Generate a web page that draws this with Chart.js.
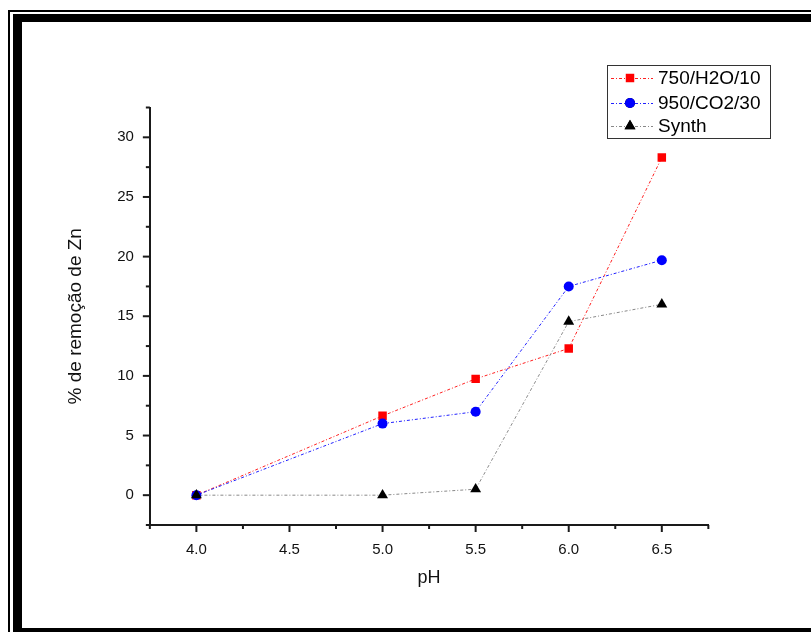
<!DOCTYPE html>
<html>
<head>
<meta charset="utf-8">
<script src="https://cdn.jsdelivr.net/npm/chart.js@4.4.1/dist/chart.umd.min.js"></script>
<style>
  html, body { margin: 0; padding: 0; background: #fff; }
  #c { display: block; }
</style>
</head>
<body>
<canvas id="c" width="811" height="632"></canvas>
<script>
// ---- data ----
const phValues = [4.0, 5.0, 5.5, 6.0, 6.5];
const seriesNames = ['750/H2O/10', '950/CO2/30', 'Synth'];
const red750 = [0, 6.65, 9.75, 12.3, 28.3];
const blue950 = [0, 6.0, 7.0, 17.5, 19.7];
const synth = [0, 0, 0.5, 14.55, 16.0];
const xTitle = 'pH';
const yTitle = '% de remoção de Zn';

const FONT = '"Liberation Sans", Arial, sans-serif';
const toPts = (ys) => ys.map((y, i) => ({ x: phValues[i], y }));
const DASH = [3, 2, 1, 2];

const frame = {
  id: 'frame',
  afterDraw(chart) {
    const ctx = chart.ctx;
    ctx.save();
    ctx.fillStyle = '#000';
    ctx.fillRect(8, 10, 2, 622);
    ctx.fillRect(8, 10, 803, 2);
    ctx.fillRect(13, 14, 9, 618);
    ctx.fillRect(13, 14, 798, 8);
    ctx.fillRect(13, 628, 798, 4);
    ctx.restore();
  }
};

const tickMarks = {
  id: 'tickMarks',
  afterDraw(chart) {
    const ctx = chart.ctx;
    const xs = chart.scales.x, ys = chart.scales.y;
    ctx.save();
    ctx.strokeStyle = '#1a1a1a';
    ctx.lineWidth = 2;
    ys.ticks.forEach(t => {
      const p = ys.getPixelForValue(t.value);
      const len = t.label !== '' ? 7 : 4;
      ctx.beginPath();
      ctx.moveTo(ys.right - len, p);
      ctx.lineTo(ys.right, p);
      ctx.stroke();
    });
    xs.ticks.forEach(t => {
      const p = xs.getPixelForValue(t.value);
      const len = t.label !== '' ? 7 : 4;
      ctx.beginPath();
      ctx.moveTo(p, xs.top);
      ctx.lineTo(p, xs.top + len);
      ctx.stroke();
    });
    ctx.restore();
  }
};

const legendBox = {
  id: 'legendBox',
  afterDraw(chart) {
    const ctx = chart.ctx;
    const bx = 607.5, by = 65.5, bw = 163, bh = 73;
    ctx.save();
    ctx.fillStyle = '#fff';
    ctx.fillRect(bx, by, bw, bh);
    ctx.strokeStyle = '#333';
    ctx.lineWidth = 1;
    ctx.strokeRect(bx, by, bw, bh);
    const rows = [78, 103, 126];
    chart.data.datasets.forEach((ds, i) => {
      const y = rows[i];
      ctx.save();
      ctx.strokeStyle = ds.borderColor;
      ctx.lineWidth = 1;
      ctx.setLineDash(DASH);
      ctx.beginPath();
      ctx.moveTo(611, y + 0.5);
      ctx.lineTo(653, y + 0.5);
      ctx.stroke();
      ctx.restore();
      Chart.helpers.drawPoint(ctx, {
        pointStyle: ds.pointStyle,
        radius: ds.pointRadius,
        borderWidth: 0,
        rotation: 0
      }, 630, y);
      ctx.fillStyle = ds.pointBackgroundColor;
      ctx.fill();
      ctx.fillStyle = '#000';
      ctx.font = '19px ' + FONT;
      ctx.textBaseline = 'middle';
      ctx.textAlign = 'left';
      ctx.fillText(ds.label, 658, y + 1);
    });
    ctx.restore();
  }
};

new Chart(document.getElementById('c'), {
  type: 'line',
  data: {
    datasets: [
      {
        label: seriesNames[0], data: toPts(red750),
        borderColor: '#ff2020', borderWidth: 1, borderDash: DASH,
        pointStyle: 'rect', pointRadius: 6,
        pointBackgroundColor: '#ff0000', pointBorderColor: '#ff0000', pointBorderWidth: 0,
        order: 3
      },
      {
        label: seriesNames[1], data: toPts(blue950),
        borderColor: '#2020ff', borderWidth: 1, borderDash: DASH,
        pointStyle: 'circle', pointRadius: 5,
        pointBackgroundColor: '#0000ff', pointBorderColor: '#0000ff', pointBorderWidth: 0,
        order: 2
      },
      {
        label: seriesNames[2], data: toPts(synth),
        borderColor: '#888888', borderWidth: 1, borderDash: DASH,
        pointStyle: 'triangle', pointRadius: 6.3,
        pointBackgroundColor: '#000000', pointBorderColor: '#000000', pointBorderWidth: 0,
        order: 1
      }
    ]
  },
  options: {
    responsive: false,
    animation: false,
    devicePixelRatio: 1,
    layout: { padding: { left: 0, top: 107.5, right: 102.65, bottom: 0 } },
    plugins: { legend: { display: false }, tooltip: { enabled: false } },
    elements: { line: { tension: 0, fill: false } },
    scales: {
      x: {
        type: 'linear',
        min: 3.75, max: 6.75,
        afterFit: (s) => { s.height = 107; },
        grid: { display: true, drawOnChartArea: false, drawTicks: false },
        border: { display: true, color: '#1a1a1a', width: 2 },
        ticks: {
          stepSize: 0.25, autoSkip: false, maxRotation: 0, padding: 16,
          color: '#111', font: { family: FONT, size: 15 },
          callback: (v) => (Math.abs(v * 2 - Math.round(v * 2)) < 1e-9 ? v.toFixed(1) : '')
        },
        title: {
          display: true, text: xTitle, color: '#111',
          font: { family: FONT, size: 18 }, padding: { top: 0, bottom: 43 }
        }
      },
      y: {
        type: 'linear',
        min: -2.5, max: 32.5,
        afterFit: (s) => { s.width = 149.85; },
        grid: { display: true, drawOnChartArea: false, drawTicks: false },
        border: { display: true, color: '#1a1a1a', width: 2 },
        ticks: {
          stepSize: 2.5, autoSkip: false, padding: 16,
          color: '#111', font: { family: FONT, size: 15 },
          callback: (v) => (Math.abs(v / 5 - Math.round(v / 5)) < 1e-9 ? String(Math.round(v)) : '')
        },
        title: {
          display: true, text: yTitle, color: '#111',
          font: { family: FONT, size: 19 }, padding: { top: 64, bottom: 0 }
        }
      }
    }
  },
  plugins: [tickMarks, legendBox, frame]
});
</script>
</body>
</html>
